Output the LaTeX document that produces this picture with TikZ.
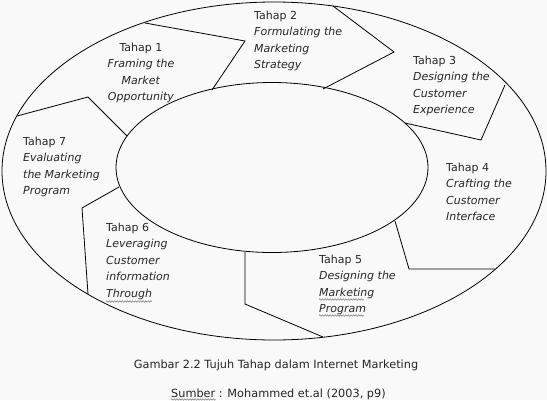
\documentclass[tikz,border=0pt]{standalone}
\usepackage{fontspec}
\setmainfont{DejaVu Sans}
\usetikzlibrary{shapes.geometric,decorations.pathmorphing}
\begin{document}
\begin{tikzpicture}[x=1pt,y=-1pt,
  ring/.style={ellipse,draw=black,line width=0.8pt,inner sep=0pt},
  divider/.style={draw=black,line width=0.8pt,line join=miter},
  stage/.style={inner sep=0pt,anchor=north west,align=left,text=black!85,
    font=\fontsize{11}{16.5}\selectfont},
  stagec/.style={stage,anchor=north,align=center},
  caption/.style={inner sep=0pt,anchor=base,text=black!85,font=\fontsize{11.3}{14}\selectfont},
  squiggle/.style={draw=black!55,line width=0.45pt,decorate,
    decoration={snake,amplitude=0.8pt,segment length=2.6pt}}]
\fill[black!2.5] (0,0) rectangle (547,400);
\useasboundingbox (0,0) rectangle (547,400);
% ellipses
\node[ring,minimum width=544pt,minimum height=338pt] (outer) at (274,171) {};
\node[ring,minimum width=312pt,minimum height=170pt] (inner) at (272,167.5) {};
% divider points
\coordinate (o1) at (145,23);  \coordinate (a1) at (245,41);  \coordinate (i1) at (212,90);
\coordinate (o2) at (333,6);   \coordinate (a2) at (394,52);  \coordinate (i2) at (323,89);
\coordinate (o3) at (505,85);  \coordinate (a3) at (481,140); \coordinate (i3) at (405,123);
\coordinate (i4) at (395,221); \coordinate (a4) at (409,269); \coordinate (o4) at (495,269);
\coordinate (i5) at (245,252); \coordinate (a5) at (245,304); \coordinate (o5) at (323,337);
\coordinate (i6) at (119,187); \coordinate (a6) at (82,208);  \coordinate (o6) at (88,294);
\coordinate (o7) at (17,116);  \coordinate (a7) at (88,97);   \coordinate (i7) at (127,136);
\draw[divider] (o1) -- (a1) -- (i1);
\draw[divider] (o2) -- (a2) -- (i2);
\draw[divider] (o3) -- (a3) -- (i3);
\draw[divider] (i4) -- (a4) -- (o4);
\draw[divider] (i5) -- (a5) -- (o5);
\draw[divider] (i6) -- (a6) -- (o6);
\draw[divider] (o7) -- (a7) -- (i7);
% stage texts
\node[stagec] (t1) at (141,42.5) {Tahap 1\\\textit{Framing the}\\\textit{Market}\\\textit{Opportunity}};
\node[stage] (t2) at (254,10.5) {Tahap 2\\\textit{Formulating the}\\\textit{Marketing}\\\textit{Strategy}};
\node[stage] (t3) at (413,55.5) {Tahap 3\\\textit{Designing the}\\\textit{Customer}\\\textit{Experience}};
\node[stage] (t4) at (446,162.5) {Tahap 4\\\textit{Crafting the}\\\textit{Customer}\\\textit{Interface}};
\node[stage] (t5) at (319,254.5) {Tahap 5\\\textit{Designing the}\\\textit{Marketing}\\\textit{Program}};
\node[stage] (t6) at (106,222.5) {Tahap 6\\\textit{Leveraging}\\\textit{Customer}\\\textit{information}\\\textit{Through}};
\node[stage] (t7) at (23,136.5) {Tahap 7\\\textit{Evaluating}\\\textit{the Marketing}\\\textit{Program}};
% captions
\node[caption] (cap) at (276,368.5) {Gambar 2.2 Tujuh Tahap dalam Internet Marketing};
\node[caption,anchor=base west] (src) at (171,397.5) {Sumber : Mohammed et.al (2003, p9)};
% spell-check squiggles
\draw[squiggle] (319,299.5) -- (364,299.5);
\draw[squiggle] (319,315.5) -- (364,315.5);
\draw[squiggle] (106,301.5) -- (152,301.5);
\draw[squiggle] (171,399.5) -- (216,399.5);
\end{tikzpicture}
\end{document}
